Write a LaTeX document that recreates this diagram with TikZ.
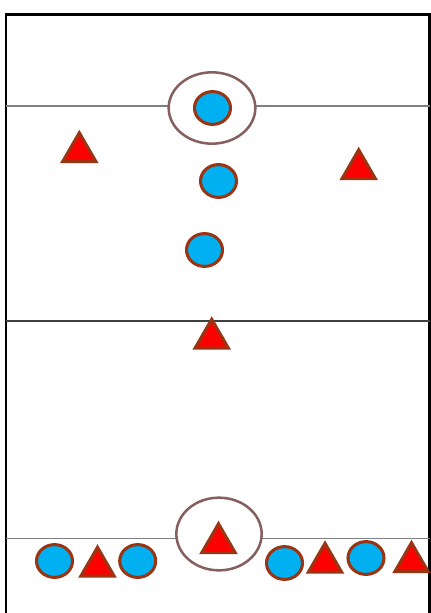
\documentclass[tikz,border=0pt]{standalone}
\usetikzlibrary{shapes.geometric}
\definecolor{pblue}{HTML}{00B0F0}
\definecolor{pred}{HTML}{FF0000}
\definecolor{rim}{HTML}{9A3412}
\definecolor{ring}{HTML}{86605F}
\tikzset{
  px/.style={x=0.75pt,y=-0.75pt},
  blue player/.style={ellipse,draw=rim,fill=pblue,line width=2.3pt,inner sep=0pt,minimum width=27pt,minimum height=24.6pt},
  red player/.style={regular polygon,regular polygon sides=3,draw=rim,fill=pred,line width=2.3pt,inner sep=0pt,minimum size=28.8pt},
  focus/.style={ellipse,draw=ring,line width=1.9pt,inner sep=0pt},
  field/.style={line width=2.2pt,black},
  midline/.style={line width=0.8pt},
}
\begin{document}
\begin{tikzpicture}[px]
\useasboundingbox (0,0) rectangle (431,613);
% frame
\coordinate (tl) at (6,14.3);
\coordinate (tr) at (429.5,14.3);
\coordinate (bl) at (6,620);
\coordinate (br) at (429.5,620);
\draw[field] (bl) -- (tl) -- (tr) -- (br);
% horizontal lines
\coordinate (l1a) at (6,106); \coordinate (l1b) at (429.5,106);
\coordinate (l2a) at (6,321); \coordinate (l2b) at (429.5,321);
\coordinate (l3a) at (6,538.5); \coordinate (l3b) at (429.5,538.5);
\draw[midline,gray] (l1a) -- (l1b);
\draw[midline,black!75] (l2a) -- (l2b);
\draw[midline,gray] (l3a) -- (l3b);
% focus ellipses
\node[focus,minimum width=65pt,minimum height=53.5pt,fill=white] (f1) at (212,108) {};
\node[focus,minimum width=64pt,minimum height=54.5pt,fill=white] (f2) at (219,534) {};
% blue players
\node[blue player] (b1) at (212.5,108) {};
\node[blue player] (b2) at (218.5,181) {};
\node[blue player] (b3) at (204.5,250) {};
\node[blue player] (b4) at (54.5,561) {};
\node[blue player] (b5) at (137.7,561) {};
\node[blue player] (b6) at (284.5,563) {};
\node[blue player] (b7) at (366,558) {};
% red players
\node[red player] (r1) at (79.3,152) {};
\node[red player] (r2) at (358.7,169) {};
\node[red player] (r3) at (211.7,338.5) {};
\node[red player] (r4) at (218.5,543) {};
\node[red player] (r5) at (97.5,566.5) {};
\node[red player] (r6) at (325,562.5) {};
\node[red player] (r7) at (411.5,562) {};
\end{tikzpicture}
\end{document}
